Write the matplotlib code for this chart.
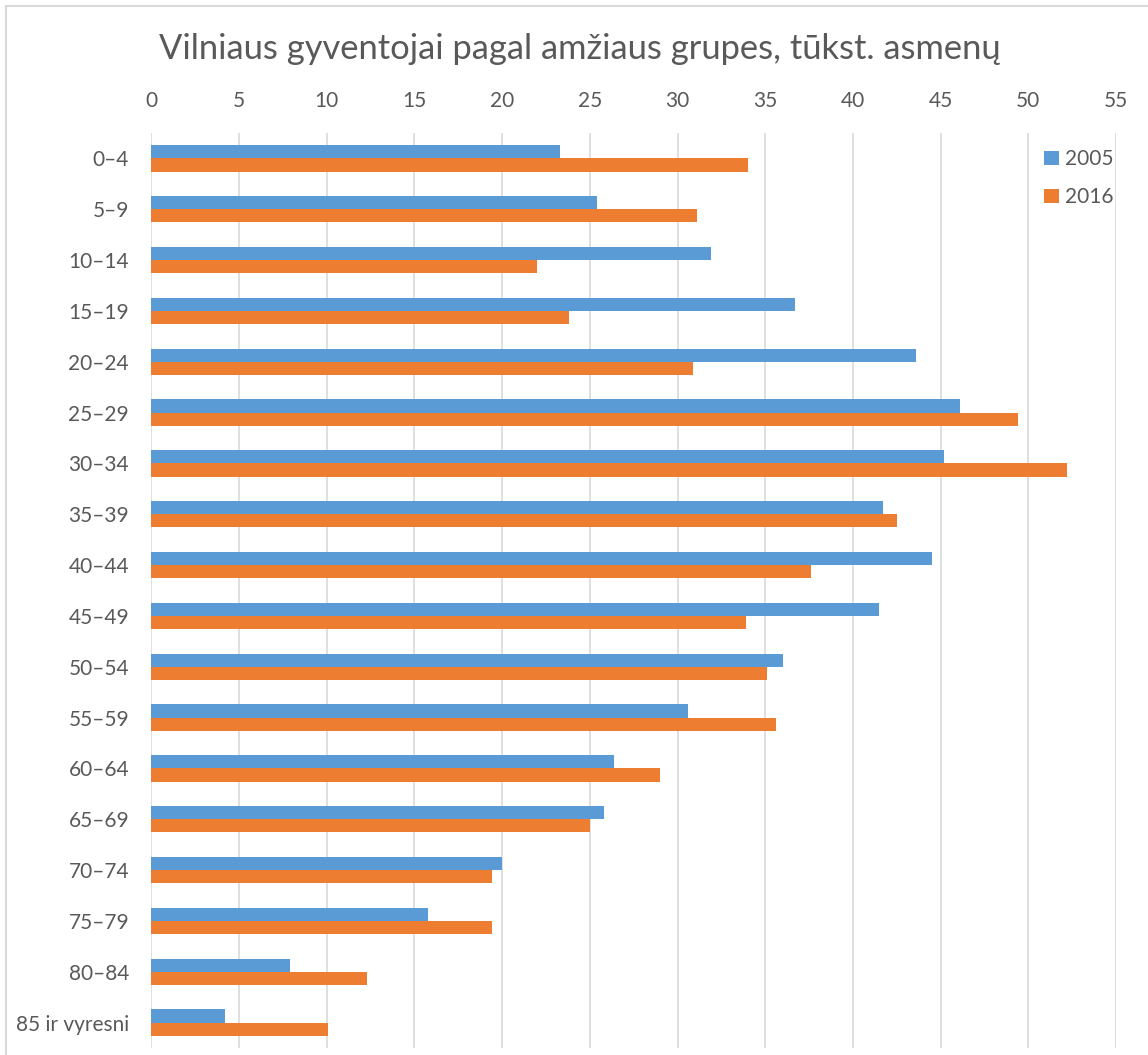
#!/usr/bin/env python3

import numpy as np
import matplotlib.pyplot as plt
from matplotlib.patches import Rectangle

groups = ["0–4", "5–9", "10–14", "15–19", "20–24", "25–29", "30–34", "35–39",
          "40–44", "45–49", "50–54", "55–59", "60–64", "65–69", "70–74",
          "75–79", "80–84", "85 ir vyresni"]
y2005 = [23.3, 25.4, 31.9, 36.7, 43.6, 46.1, 45.2, 41.7, 44.5, 41.5, 36.0,
         30.6, 26.4, 25.8, 20.0, 15.8, 7.9, 4.2]
y2016 = [34.0, 31.1, 22.0, 23.8, 30.9, 49.4, 52.2, 42.5, 37.6, 33.9, 35.1,
         35.6, 29.0, 25.0, 19.4, 19.4, 12.3, 10.1]
xticks = list(range(0, 56, 5))
title = "Vilniaus gyventojai pagal amžiaus grupes, tūkst. asmenų"

BLUE = "#5B9BD5"
ORANGE = "#ED7D31"
GREY = "#595959"
GRID = "#D9D9D9"

plt.rcParams['font.family'] = ['Lato', 'DejaVu Sans']

W, H = 1148, 1055
fig = plt.figure(figsize=(W/100, H/100), dpi=100)

# chart border (only top/left visible in the reference)
fig.patches.append(Rectangle((6/W, -0.1), 1.2, 1 - 6/H + 0.1, transform=fig.transFigure,
                             fill=False, edgecolor=GRID, linewidth=1.5))

ax = fig.add_axes([151.3/W, 1 - 1048/H, (1116 - 151.3)/W, (1048 - 133)/H])

pos = np.arange(len(groups))
h = 0.26
ax.barh(pos - h/2, y2005, height=h, color=BLUE, label="2005", zorder=3)
ax.barh(pos + h/2, y2016, height=h, color=ORANGE, label="2016", zorder=3)

ax.set_ylim(len(groups) - 0.5, -0.5)
ax.set_xlim(0, 55)
ax.set_xticks(xticks)
ax.set_yticks(pos)
ax.set_yticklabels(groups)
ax.xaxis.tick_top()
ax.tick_params(axis='both', length=0, labelsize=15, colors=GREY)
ax.tick_params(axis='x', pad=16)
ax.tick_params(axis='y', pad=16)
ax.grid(axis='x', color=GRID, linewidth=1.2, zorder=0)
for s in ax.spines.values():
    s.set_visible(False)

leg = ax.legend(loc='upper left', bbox_to_anchor=(1034/W, 1 - 139/H),
                bbox_transform=fig.transFigure, frameon=False, fontsize=15,
                handlelength=0.7, handleheight=0.7, handletextpad=0.3,
                labelspacing=0.85, borderpad=0)
for t in leg.get_texts():
    t.set_color(GREY)

fig.text(580/W, 1 - 49/H, title, ha='center', va='center', fontsize=24.8, color=GREY)

fig.savefig("out.png", dpi=100)
